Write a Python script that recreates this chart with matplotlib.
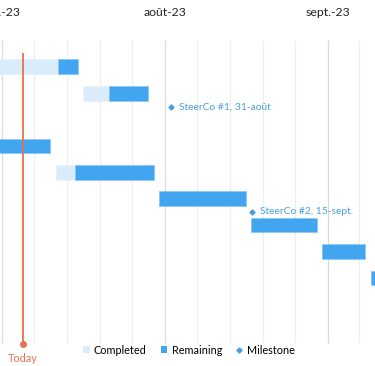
import matplotlib
matplotlib.use("Agg")
import matplotlib.pyplot as plt
from matplotlib.patches import Patch
from matplotlib.lines import Line2D

# days counted from 1 July 2023
rows = [0, 1, 3, 4, 5, 6, 7, 8]
starts = [-12, 15.4, -12, 10.3, 30.0, 47.5, 60.9, 70.3]
completed = [22.8, 5.1, 0, 3.7, 0, 0, 0, 0]
remaining = [3.7, 7.4, 21.25, 14.9, 16.5, 12.4, 8.25, 10]

milestone_days = [32.2, 47.6]
milestone_rows = [1.54, 5.5]
milestone_labels = ["SteerCo #1, 31-août", "SteerCo #2, 15-sept."]

month_starts = [0, 31, 62]
month_labels = ["juil.-23", "août-23", "sept.-23"]
month_lengths = [31, 31, 30]

today = 4.05

LIGHT = "#DAEBFA"
DARK = "#42A5F0"
MILE = "#4A9FE0"
RED = "#E8704F"

plt.rcParams["font.family"] = ["Lato", "DejaVu Sans"]

fig = plt.figure(figsize=(3.75, 3.66), dpi=100)
ax = fig.add_axes([0, 0, 1, 1])
ax.set_xlim(-0.323, 70.99)
ax.set_ylim(11.337, -2.527)
ax.axis("off")

# gridlines: months split into 5 parts
for m0, ml in zip(month_starts, month_lengths):
    ax.vlines(m0, -1.02, 10.47, color="#DADADA", lw=0.9, zorder=0)
    for k in range(1, 5):
        ax.vlines(m0 + k * ml / 5, -1.02, 10.47, color="#EEEEEE", lw=0.9, zorder=0)

for m0, lab in zip(month_starts, month_labels):
    ax.text(m0, -2.07, lab, ha="center", va="center", fontsize=8.8, color="#222222")

ax.barh(rows, completed, left=starts, height=0.56, color=LIGHT,
        edgecolor="#E6F2FC", linewidth=0.6, zorder=2)
rem_left = [s + c for s, c in zip(starts, completed)]
ax.barh(rows, remaining, left=rem_left, height=0.56, color=DARK,
        edgecolor="#8CC8F5", linewidth=0.6, zorder=2)

ax.plot(milestone_days, milestone_rows, "D", color=MILE, markersize=2.6, zorder=3)
for d, r, lab in zip(milestone_days, milestone_rows, milestone_labels):
    ax.text(d + 1.5, r, lab, ha="left", va="center", fontsize=7.4, color=MILE)

ax.vlines(today, -0.51, 10.5, color=RED, lw=1.3, zorder=4)
ax.plot([today], [10.5], "o", color=RED, markersize=4, zorder=4)
ax.text(today, 11.05, "Today", ha="center", va="center", fontsize=7.8, color=RED)

handles = [
    Patch(facecolor=LIGHT, edgecolor="none", label="Completed"),
    Patch(facecolor=DARK, edgecolor="none", label="Remaining"),
    Line2D([], [], marker="D", linestyle="none", color=MILE, markersize=2.6, label="Milestone"),
]
fig.legend(handles=handles, loc="center", bbox_to_anchor=(189 / 375, 1 - 350 / 366),
           ncol=3, frameon=False, fontsize=7.8, handlelength=0.6, handleheight=0.6,
           handletextpad=0.4, columnspacing=1.3)

fig.savefig("out.png", dpi=100)
